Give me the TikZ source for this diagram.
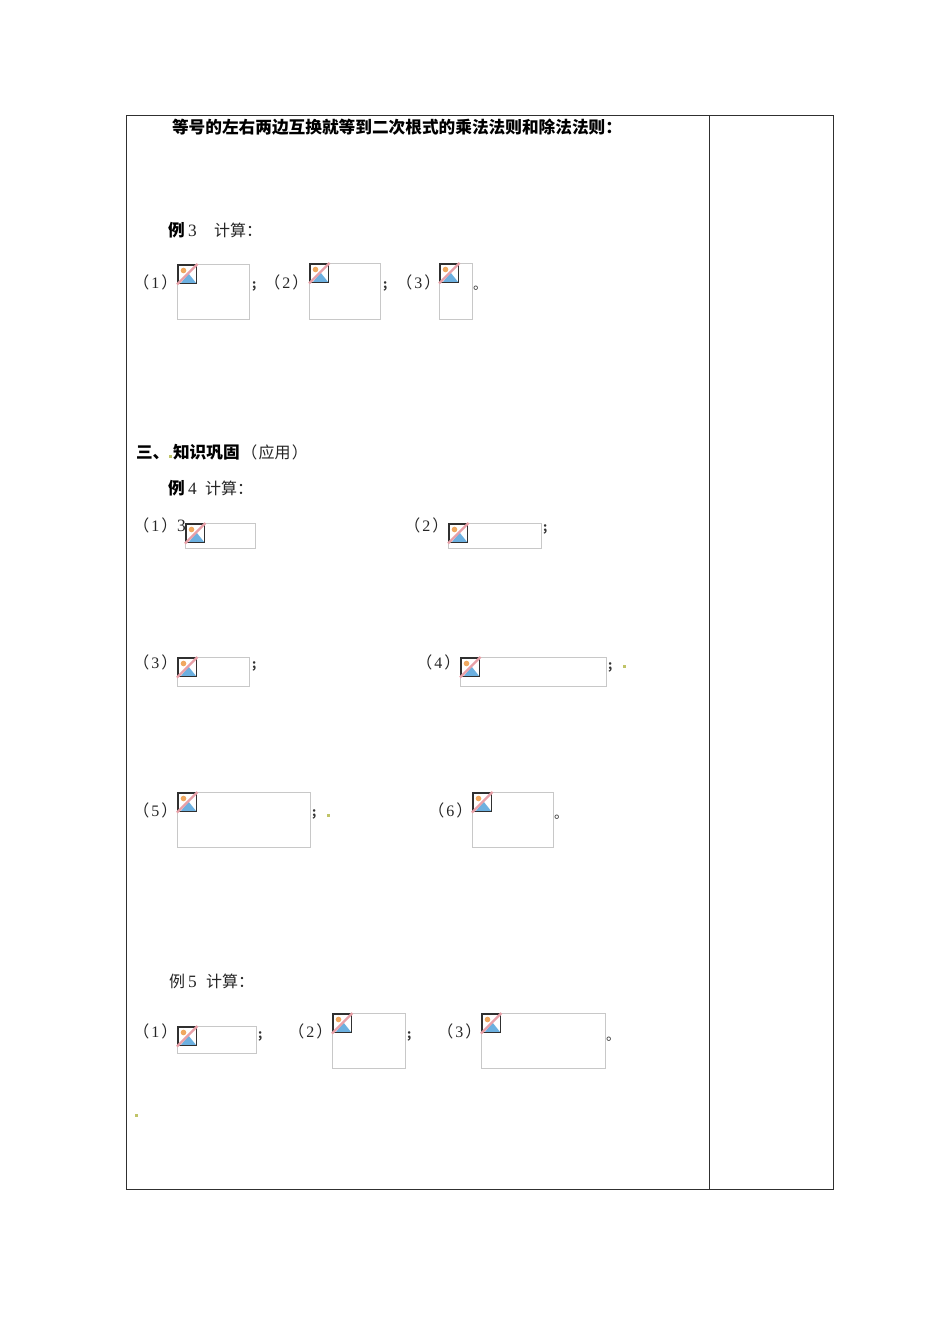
\documentclass[tikz,border=0pt]{standalone}
\usepackage{fontspec}
\setmainfont{Liberation Serif}
\newfontfamily\cjkf{Noto Sans CJK SC}
\definecolor{boxgrey}{HTML}{C8C8C8}
\definecolor{frameblack}{HTML}{303030}
\definecolor{sunorange}{HTML}{F0A860}
\definecolor{skyblue}{HTML}{6CB0E0}
\definecolor{slashred}{HTML}{E8A0A8}
\definecolor{dotolive}{HTML}{C0C468}
\tikzset{
  label text/.style={anchor=base west,inner sep=0pt,outer sep=0pt,font=\fontsize{12}{14}\selectfont\cjkf,text=black!85},
  num text/.style={label text,font=\fontsize{13}{14}\selectfont\rmfamily},
  head text/.style={label text,font=\fontsize{12.5}{14}\selectfont\cjkf\bfseries,text=black},
  mark text/.style={label text,font=\fontsize{9}{11}\selectfont\cjkf\bfseries,text=black!80},
  stop text/.style={label text,font=\fontsize{10.5}{11}\selectfont\cjkf,text=black!80},
  table line/.style={draw=frameblack,line width=0.75pt},
  image box/.style={draw=boxgrey,line width=0.75pt},
  olive dot/.style={fill=dotolive},
}
\newcommand{\brk}[1]{\makebox[11.5pt][r]{（}\hspace{1.5pt}{\rmfamily #1}\hspace{1.5pt}\makebox[11.5pt][l]{）}}
\newcommand{\oldot}[2]{\fill[olive dot] (#1-1.5,#2-1.5) rectangle (#1+1.5,#2+1.5);}
% placeholder image: name, left, top, right, bottom
\newcommand{\imgbox}[5]{%
  \coordinate (#1-a) at (#2,#3);
  \coordinate (#1-b) at (#4,#5);
  \draw[image box] (#1-a) rectangle (#1-b);
  \begin{scope}[shift={(#1-a)}]
    \fill[white] (0,0) rectangle (19.5,19.5);
    \fill[skyblue] (3,19) -- (11,9) -- (19,19) -- cycle;
    \fill[sunorange] (6,6) circle (2.8);
    \draw[frameblack,line width=0.9pt] (0.5,0.5) rectangle (19,19);
    \draw[slashred,line width=1.8pt] (-0.5,20) -- (20,-0.5);
  \end{scope}
}
\begin{document}
\begin{tikzpicture}[x=0.75pt,y=-0.75pt]
\useasboundingbox (0,0) rectangle (950,1344);
\fill[white] (0,0) rectangle (950,1344);
% table
\coordinate (tl) at (126.5,115.5);
\coordinate (tr) at (833.5,115.5);
\coordinate (bl) at (126.5,1189.5);
\coordinate (br) at (833.5,1189.5);
\coordinate (mt) at (709.5,115.5);
\coordinate (mb) at (709.5,1189.5);
\draw[table line] (tl) rectangle (br);
\draw[table line] (mt) -- (mb);
% head lines
\node[head text] (h1) at (172,134) {等号的左右两边互换就等到二次根式的乘法法则和除法法则：};
\node[head text] (l3) at (168,237) {例};
\node[num text] (l3n) at (188,237) {3};
\node[label text] (l3b) at (214,237) {计算：};
% example 3
\imgbox{a1}{177.5}{264.5}{249.5}{319.5}
\imgbox{a2}{309.5}{263.5}{380.5}{319.5}
\imgbox{a3}{439.5}{263.5}{472.5}{319.5}
\node[label text] (ta1) at (134,289) {\brk{1}};
\node[label text] (ta2) at (265,289) {\brk{2}};
\node[label text] (ta3) at (397,289) {\brk{3}};
\node[mark text] (sa1) at (252,289) {;};
\node[mark text] (sa2) at (383,289) {;};
\node[stop text] (sa3) at (473,290) {。};
% section
\node[head text] (s3) at (136,458) {三、};
\node[head text] (s3b) at (173,458) {知识巩固};
\node[label text] (s3c) at (242,458) {\makebox[11.5pt][r]{（}\hspace{1pt}应用\hspace{1pt}\makebox[11.5pt][l]{）}};
\node[head text] (l4) at (168,494) {例};
\node[num text] (l4n) at (188,494) {4};
\node[label text] (l4b) at (205,494) {计算：};
% example 4
\imgbox{b1}{185.5}{523.5}{255.5}{548.5}
\imgbox{b2}{448.5}{523.5}{541.5}{548.5}
\imgbox{b3}{177.5}{657.5}{249.5}{686.5}
\imgbox{b4}{460.5}{657.5}{606.5}{686.5}
\imgbox{b5}{177.5}{792.5}{310.5}{847.5}
\imgbox{b6}{472.5}{792.5}{553.5}{847.5}
\node[label text] (tb1) at (134,531) {\brk{1}};
\node[num text] (tb1n) at (177,531) {3};
\node[label text] (tb2) at (405,531) {\brk{2}};
\node[label text] (tb3) at (134,668) {\brk{3}};
\node[label text] (tb4) at (417,668) {\brk{4}};
\node[label text] (tb5) at (134,816) {\brk{5}};
\node[label text] (tb6) at (429,816) {\brk{6}};
\node[mark text] (sb2) at (543,531) {;};
\node[mark text] (sb3) at (252,668) {;};
\node[mark text] (sb4) at (608,669) {;};
\node[mark text] (sb5) at (312,816) {;};
\node[stop text] (sb6) at (554,818) {。};
% example 5
\node[label text] (l5) at (169,987) {例};
\node[num text] (l5n) at (188,987) {5};
\node[label text] (l5b) at (206,987) {计算：};
\imgbox{c1}{177.5}{1026.5}{256.5}{1053.5}
\imgbox{c2}{332.5}{1013.5}{405.5}{1068.5}
\imgbox{c3}{481.5}{1013.5}{605.5}{1068.5}
\node[label text] (tc1) at (134,1037) {\brk{1}};
\node[label text] (tc2) at (289,1037) {\brk{2}};
\node[label text] (tc3) at (438,1037) {\brk{3}};
\node[mark text] (sc1) at (258,1038) {;};
\node[mark text] (sc2) at (407,1038) {;};
\node[stop text] (sc3) at (606,1040) {。};
% stray marks
\oldot{170}{456}
\oldot{624}{666}
\oldot{328}{815}
\oldot{136}{1115}
\end{tikzpicture}
\end{document}
